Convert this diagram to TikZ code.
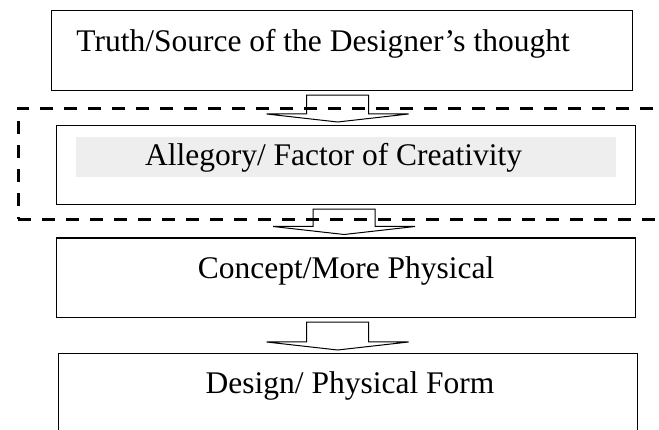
\documentclass[tikz,border=0pt]{standalone}
\usepackage{fontspec}
\setmainfont{Liberation Serif}
\usetikzlibrary{arrows,positioning,calc}
\definecolor{bandgray}{HTML}{EEEEEE}
% hollow block arrow between two stages
\newcommand{\blockarrow}[3]{%
\path ($(#1.south)+(#3,0)$) coordinate (top) (top |- #2.north) coordinate (tip);
\draw[flow] ($(top)+(-31,4)$) -- ++(62,0) |- ($(tip)+(71,-11)$) -- ($(tip)+(0,-3)$) -- ($(tip)+(-71,-11)$) -- ++(40,0) -- cycle;}

\begin{document}
\begin{tikzpicture}[x=1pt,y=-1pt]
\tikzset{stage/.style={draw, rectangle, line width=1.2pt, minimum width=579pt, minimum height=80pt, anchor=north west, inner sep=0pt}}
\tikzset{stagetext/.style={anchor=base, inner sep=0pt, font=\fontsize{31.5}{36}\selectfont}} % labels sit on their baseline
\tikzset{flow/.style={line width=1pt, line join=miter}}
\tikzset{groupbox/.style={draw, line width=2.6pt, dash pattern=on 13pt off 11pt, minimum width=670pt, minimum height=111pt, anchor=north west, inner sep=0pt}}
\useasboundingbox (0,0) rectangle (659,430);

\node[groupbox] (group) at (17,107) {};
\node[stage, minimum width=581pt] (truth) at (51,10) {};
\node[stage, minimum height=79pt] (allegory) at (56,125) {};
\node[fill=bandgray, minimum width=540pt, minimum height=40pt, anchor=north west, inner sep=0pt] (band) at (76,137) {};
\node[stage, minimum height=79.5pt] (concept) at (56,237.5) {};
\node[stage] (design) at (58,353) {};

\node[stagetext] (truthtxt) at ($(truth.north)+(-19,42)$) {Truth/Source of the Designer’s thought};
\node[stagetext] (allegorytxt) at ($(allegory.north)+(-12.5,41)$) {Allegory/ Factor of Creativity};
\node[stagetext] (concepttxt) at ($(concept.north)+(0,41.5)$) {Concept/More Physical};
\node[stagetext] (designtxt) at ($(design.north)+(2,41)$) {Design/ Physical Form};

\blockarrow{truth}{allegory}{-4.5}
\blockarrow{allegory}{concept}{-2}
\blockarrow{concept}{design}{-8.5}
\end{tikzpicture}
\end{document}
